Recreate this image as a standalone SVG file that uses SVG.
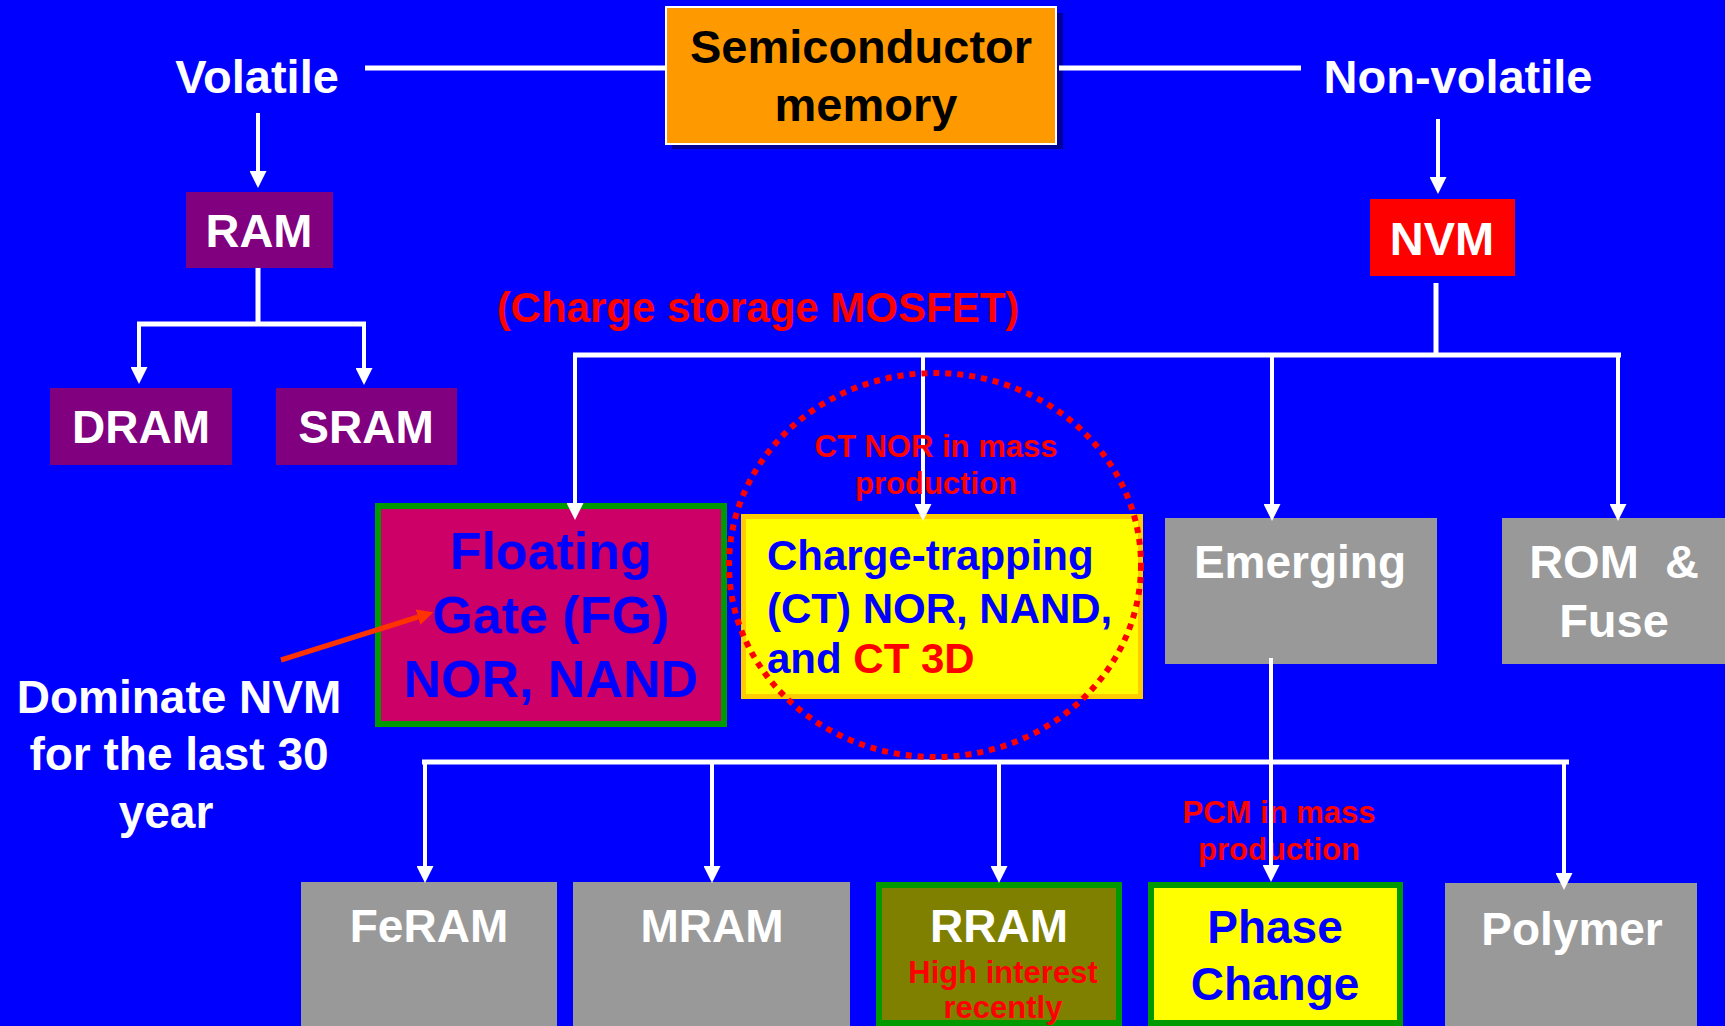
<svg xmlns="http://www.w3.org/2000/svg" width="1725" height="1026" viewBox="0 0 1725 1026">
<defs>
<style>
text{font-family:"Liberation Sans",Arial,sans-serif;font-weight:bold;text-anchor:middle}
.w{fill:#FFFFFF}
.k{fill:#000000}
.r{fill:#FF0000}
.b{fill:#0000FF}
.t47{font-size:47px}
.t46{font-size:46px}
.t42{font-size:42px}
.t52{font-size:52px}
.t31{font-size:31px}
.ln{stroke:#FFFFFF;stroke-width:5;fill:none}
.ar{stroke:#FFFFFF;stroke-width:4;fill:none;marker-end:url(#ah)}
.gray{fill:#999999}
</style>
<marker id="ah" markerUnits="userSpaceOnUse" markerWidth="17" markerHeight="17" refX="0" refY="8.5" orient="auto" viewBox="0 0 17 17">
<path d="M0,0 L17,8.5 L0,17 z" fill="#FFFFFF"/>
</marker>
<marker id="oh" markerUnits="userSpaceOnUse" markerWidth="16" markerHeight="16" refX="0" refY="8" orient="auto" viewBox="0 0 16 16">
<path d="M0,0 L16,8 L0,16 z" fill="#FF3300"/>
</marker>
</defs>
<rect x="0" y="0" width="1725" height="1026" fill="#0000FF"/>

<g id="semiconductor">
<rect x="672" y="13" width="391" height="136" fill="#000099"/>
<rect x="666" y="7" width="390" height="137" fill="#FF9900" stroke="#FFFFFF" stroke-width="2"/>
<text class="k t47" x="861" y="63">Semiconductor</text>
<text class="k t47" x="866" y="121">memory</text>
</g>
<g id="volatile"><text class="w t47" x="257" y="93">Volatile</text></g>
<g id="nonvolatile"><text class="w t47" x="1458" y="93">Non-volatile</text></g>
<g id="ram">
<rect x="186" y="192" width="147" height="76" fill="#800080"/>
<text class="w t47" x="259" y="247">RAM</text>
</g>
<g id="dram">
<rect x="50" y="388" width="182" height="77" fill="#800080"/>
<text class="w t46" x="141" y="443">DRAM</text>
</g>
<g id="sram">
<rect x="276" y="388" width="181" height="77" fill="#800080"/>
<text class="w t46" x="366" y="443">SRAM</text>
</g>
<g id="nvm">
<rect x="1370" y="199" width="145" height="77" fill="#FF0000"/>
<text class="w t47" x="1442" y="255">NVM</text>
</g>
<g id="mosfet-label"><text class="r t42" x="758" y="322">(Charge storage MOSFET)</text></g>
<g id="fg">
<rect x="378" y="506" width="346" height="218" fill="#CC0066" stroke="#009900" stroke-width="6"/>
<text class="b t52" x="551" y="569">Floating</text>
<text class="b t52" x="551" y="633">Gate (FG)</text>
<text class="b t52" x="551" y="697">NOR, NAND</text>
</g>
<g id="ct">
<rect x="743.5" y="516.5" width="397" height="180" fill="#FFFF00" stroke="#FFCC00" stroke-width="5"/>
<text class="b t42" x="767" y="570" style="text-anchor:start">Charge-trapping</text>
<text class="b t42" x="767" y="623" style="text-anchor:start">(CT) NOR, NAND,</text>
<text class="b t42" x="767" y="673" style="text-anchor:start">and <tspan class="r">CT 3D</tspan></text>
</g>
<g id="emerging">
<rect x="1165" y="518" width="272" height="146" class="gray"/>
<text class="w t46" x="1300" y="578">Emerging</text>
</g>
<g id="rom">
<rect x="1502" y="518" width="223" height="146" class="gray"/>
<text class="w t47" x="1614" y="578" xml:space="preserve">ROM  &amp;</text>
<text class="w t47" x="1614" y="637">Fuse</text>
</g>
<g id="dominate">
<text class="w t46" x="179" y="713">Dominate NVM</text>
<text class="w t46" x="179" y="770">for the last 30</text>
<text class="w t46" x="166" y="828">year</text>
</g>
<g id="feram">
<rect x="301" y="882" width="256" height="144" class="gray"/>
<text class="w t46" x="429" y="942">FeRAM</text>
</g>
<g id="mram">
<rect x="573" y="882" width="277" height="144" class="gray"/>
<text class="w t46" x="712" y="942">MRAM</text>
</g>
<g id="rram">
<rect x="879" y="885" width="240" height="138" fill="#808000" stroke="#009900" stroke-width="6"/>
<text class="w t46" x="999" y="942">RRAM</text>
<text class="r t31" x="1003" y="983">High interest</text>
<text class="r t31" x="1003" y="1018">recently</text>
</g>
<g id="phase">
<rect x="1151" y="885" width="249" height="138" fill="#FFFF00" stroke="#009900" stroke-width="6"/>
<text class="b t46" x="1275" y="943">Phase</text>
<text class="b t46" x="1275" y="1000">Change</text>
</g>
<g id="polymer">
<rect x="1445" y="883" width="252" height="143" class="gray"/>
<text class="w t46" x="1572" y="945">Polymer</text>
</g>
<g id="pcm-label">
<text class="r t31" x="1279" y="823">PCM in mass</text>
<text class="r t31" x="1279" y="860">production</text>
</g>

<g id="connectors">
<path class="ln" d="M365,68 H666"/>
<path class="ln" d="M1059,68 H1301"/>
<path class="ar" d="M258,113 V171"/>
<path class="ln" d="M258,268 V324"/>
<path class="ln" d="M137,324 H366"/>
<path class="ar" d="M139,322 V367"/>
<path class="ar" d="M364,322 V368"/>
<path class="ar" d="M1438,119 V177"/>
<path class="ln" d="M1436,283 V355"/>
<path class="ln" d="M573,355 H1621"/>
<path class="ar" d="M575,353 V503"/>
<path class="ar" d="M923,353 V504"/>
<path class="ar" d="M1272,353 V504"/>
<path class="ar" d="M1618,353 V504"/>
<path class="ar" d="M1271,658 V865"/>
<path class="ln" d="M422,762 H1569"/>
<path class="ar" d="M425,760 V866"/>
<path class="ar" d="M712,760 V866"/>
<path class="ar" d="M999,760 V866"/>
<path class="ar" d="M1564,760 V873"/>
<path d="M281,660 L418,617" stroke="#FF3300" stroke-width="5" fill="none" marker-end="url(#oh)"/>
</g>

<g id="ct-highlight">
<ellipse cx="935" cy="565" rx="206" ry="192" fill="none" stroke="#FF0000" stroke-width="6" stroke-dasharray="6 6"/>
<text class="r t31" x="936" y="457">CT NOR in mass</text>
<text class="r t31" x="936" y="494">production</text>
</g>
</svg>
